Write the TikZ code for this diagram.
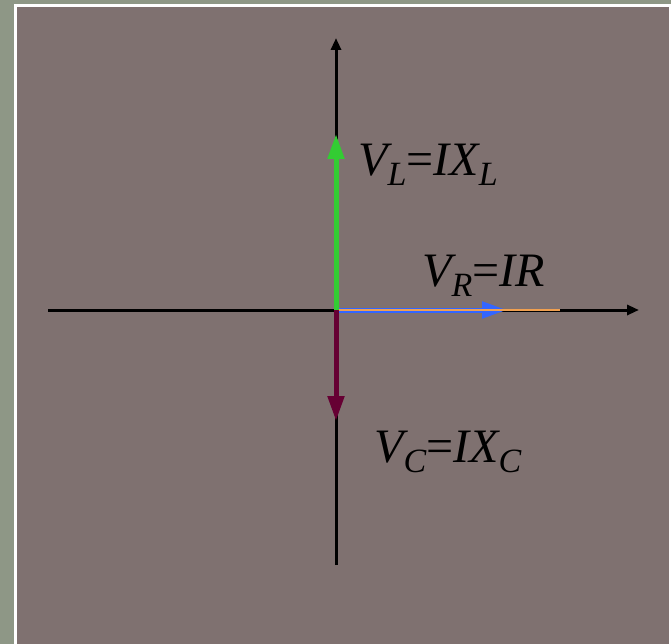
\documentclass[tikz,border=0pt]{standalone}
\usepackage{fontspec}
\setmainfont{Liberation Serif}
\usetikzlibrary{arrows.meta}
\definecolor{bordergreen}{HTML}{8E9786}
\definecolor{panel}{HTML}{7F7170}
\definecolor{vlgreen}{HTML}{33CC33}
\definecolor{vcmaroon}{HTML}{660033}
\definecolor{vrblue}{HTML}{3366FF}
\definecolor{vrorange}{HTML}{F0A050}
\newcommand\sbs[1]{\raisebox{-10pt}{\fontsize{34}{34}\selectfont #1}}
\tikzset{
  axis/.style={line width=3pt, -{Triangle[length=12pt,width=10pt]}},
  phasor/.style={line width=5pt, -{Triangle[length=25pt,width=16pt]}},
  lbl/.style={anchor=base west, inner sep=0pt, font=\fontsize{48}{48}\selectfont\itshape}
}
\begin{document}
\begin{tikzpicture}[x=1pt,y=-1pt]
\useasboundingbox (0,0) rectangle (671,644);
\fill[bordergreen] (0,0) rectangle (671,644);
\fill[white] (14,4) rectangle (671,644);
\fill[panel] (17,7) rectangle (669,644);
\coordinate (O) at (336,310);
\coordinate (xL) at (48,310);
\coordinate (xR) at (639,310);
\coordinate (yT) at (336,38);
\coordinate (yB) at (336,565);
\coordinate (L) at (336,134);
\coordinate (C) at (336,421);
\coordinate (R) at (507,310);
\coordinate (Rend) at (560,310);
% axes
\draw[axis] (xL) -- (xR);
\draw[axis] (yB) -- (yT);
% phasors
\draw[phasor, vrblue] (O) -- (R);
\draw[line width=2pt, vrorange] ([xshift=3pt]O) -- (Rend);
\draw[phasor, vlgreen] (O) -- (L);
\draw[phasor, vcmaroon] (O) -- (C);
% labels
\node[lbl] (tL) at (358,176) {V\sbs{L}\upshape=\itshape IX\sbs{L}};
\node[lbl] (tR) at (422,286) {V\sbs{R}\upshape=\itshape IR};
\node[lbl] (tC) at (374,462) {V\sbs{C}\upshape=\itshape IX\sbs{C}};
\end{tikzpicture}
\end{document}
